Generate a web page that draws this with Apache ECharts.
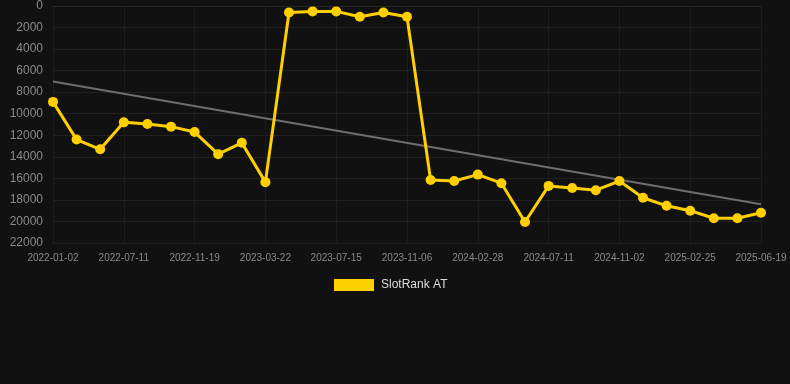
<!DOCTYPE html>
<html>
<head>
<meta charset="utf-8">
<script src="https://cdn.jsdelivr.net/npm/echarts@6/dist/echarts.min.js"></script>
<style>
html,body{margin:0;padding:0;background:#111111;}
#c{width:790px;height:384px;}
</style>
</head>
<body>
<div id="c"></div>
<script>
const categories = [
  "2022-01-02","2022-03-05","2022-05-08","2022-07-11","2022-08-24","2022-10-06",
  "2022-11-19","2022-12-30","2023-02-09","2023-03-22","2023-04-30","2023-06-07",
  "2023-07-15","2023-08-22","2023-09-29","2023-11-06","2023-12-18","2024-01-23",
  "2024-02-28","2024-04-12","2024-05-27","2024-07-11","2024-08-20","2024-09-26",
  "2024-11-02","2024-12-14","2025-01-20","2025-02-25","2025-04-03","2025-05-12",
  "2025-06-19"
];
const slotRankValues = [
  8900, 12400, 13300, 10800, 10950, 11200,
  11700, 13750, 12700, 16350, 600, 500,
  500, 1000, 600, 1000, 16150, 16250,
  15650, 16450, 20050, 16700, 16900, 17100,
  16250, 17800, 18550, 19000, 19700, 19700,
  19200
];
const trendStart = 7000;
const trendEnd = 18400;
const trendValues = categories.map((c, i) => i === 0 ? trendStart : (i === categories.length - 1 ? trendEnd : null));
const yTicks = { min: 0, max: 22000, interval: 2000 };

const chart = echarts.init(document.getElementById('c'), null, {renderer: 'canvas'});
chart.setOption({
  backgroundColor: '#111111',
  animation: false,
  grid: { left: 53, right: 29, top: 6, bottom: 141 },
  legend: {
    bottom: 88,
    left: 329,
    itemWidth: 40,
    itemHeight: 12,
    itemGap: 10,
    icon: 'rect',
    data: ['SlotRank AT'],
    textStyle: { color: '#dddddd', fontSize: 12, padding: [0, 0, 0, 2], fontFamily: 'Arial, Liberation Sans, sans-serif' }
  },
  xAxis: {
    type: 'category',
    data: categories,
    boundaryGap: false,
    axisLine: { show: true, lineStyle: { color: '#262626' } },
    axisTick: { show: false },
    axisLabel: { interval: 2, color: '#8a8a8a', fontSize: 10, margin: 10, fontFamily: 'Arial, Liberation Sans, sans-serif' },
    splitLine: { show: true, interval: 2, lineStyle: { color: '#1c1c1c', width: 1 } }
  },
  yAxis: {
    type: 'value',
    inverse: true,
    min: yTicks.min,
    max: yTicks.max,
    interval: yTicks.interval,
    axisLine: { show: false },
    axisTick: { show: false },
    axisLabel: { color: '#8a8a8a', fontSize: 12, margin: 10, fontFamily: 'Arial, Liberation Sans, sans-serif', formatter: v => String(v) },
    splitLine: { show: true, lineStyle: { color: '#202020', width: 1 } }
  },
  series: [
    {
      name: 'SlotRank AT',
      type: 'line',
      data: slotRankValues,
      color: '#FFD000',
      lineStyle: { width: 3, color: '#FFD000' },
      itemStyle: { color: '#FFD000' },
      symbol: 'circle',
      symbolSize: 10,
      z: 3
    },
    {
      name: 'trend',
      type: 'line',
      data: trendValues,
      connectNulls: true,
      symbol: 'none',
      lineStyle: { width: 2, color: '#6e6e6e' },
      itemStyle: { color: '#6e6e6e' },
      z: 2
    }
  ]
});
</script>
</body>
</html>
